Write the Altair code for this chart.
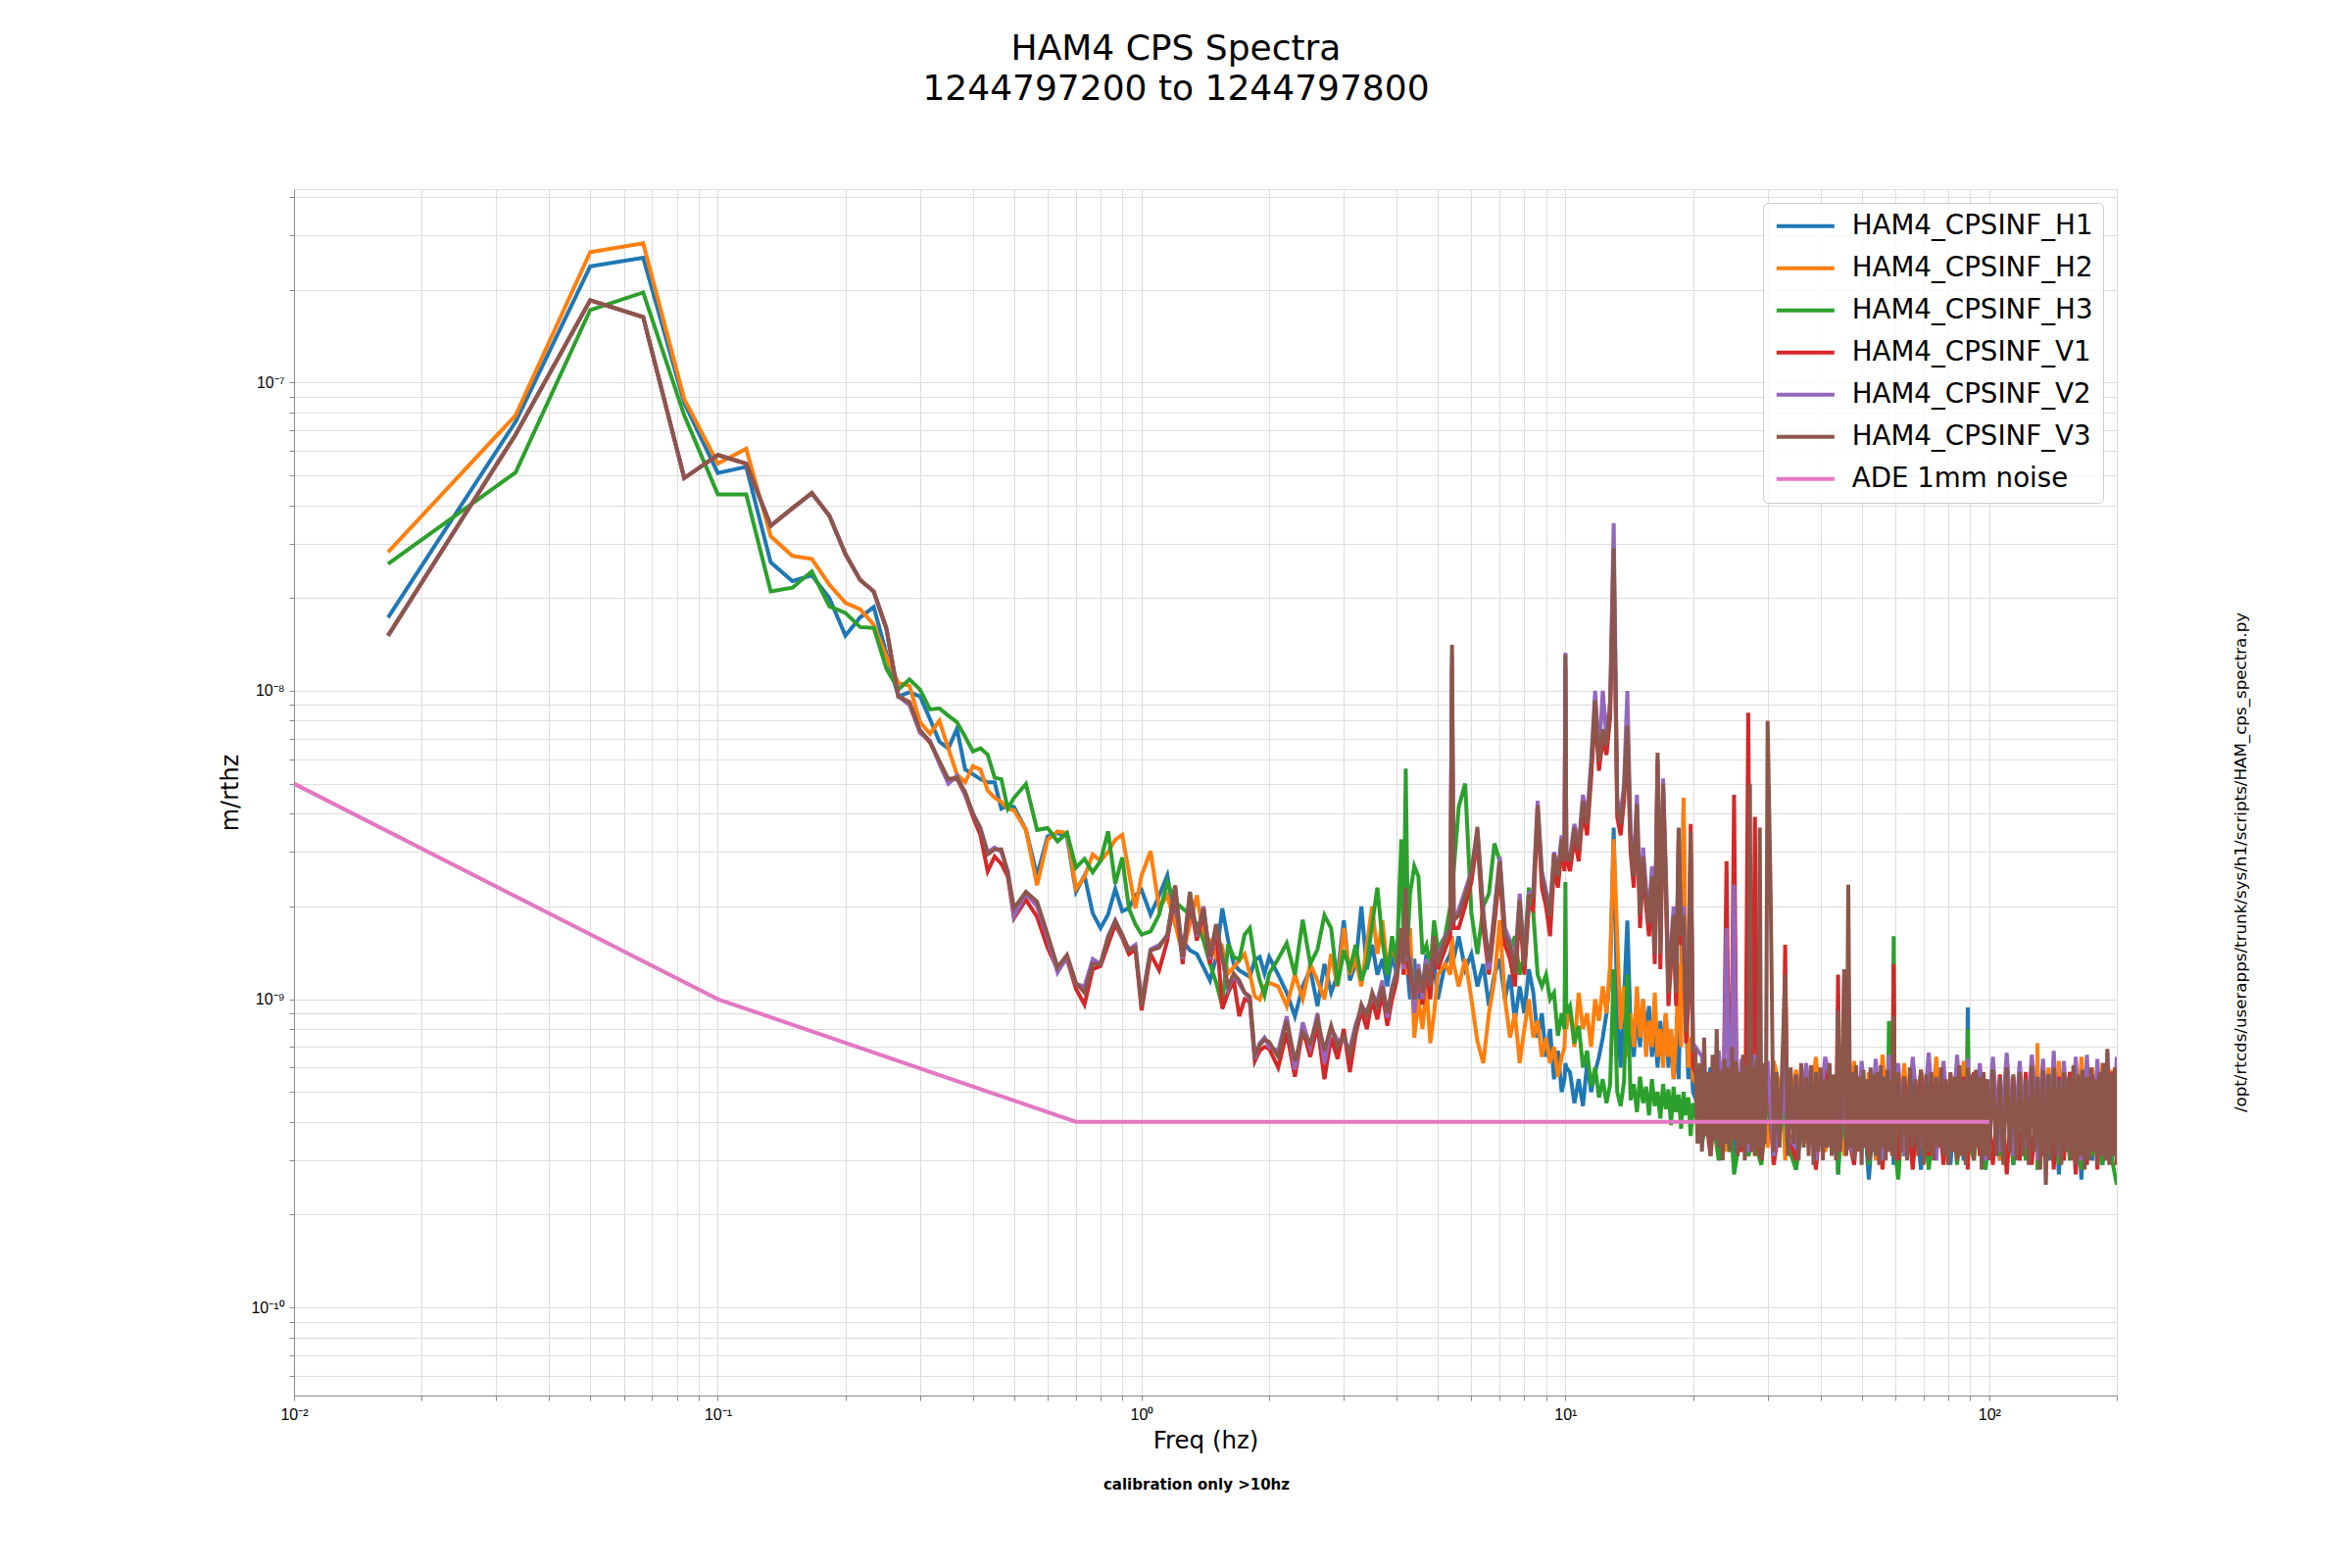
import altair as alt
import pandas as pd

NAMES = ["HAM4_CPSINF_H1", "HAM4_CPSINF_H2", "HAM4_CPSINF_H3",
         "HAM4_CPSINF_V1", "HAM4_CPSINF_V2", "HAM4_CPSINF_V3", "ADE 1mm noise"]
COLORS = ["#1f77b4", "#ff7f0e", "#2ca02c", "#d62728", "#9467bd", "#8c564b", "#e377c2"]

TITLE = ["HAM4 CPS Spectra", "1244797200 to 1244797800"]
X_TITLE = "Freq (hz)"
Y_TITLE = "m/rthz"
NOTE = "calibration only >10hz"
SCRIPT_PATH = "/opt/rtcds/userapps/trunk/sys/h1/scripts/HAM_cps_spectra.py"

# ---------------- frequency grids (Hz) ----------------
FREQ_LOW = [
    0.01667, 0.03333, 0.05, 0.06667, 0.08333, 0.1, 0.11667, 0.13333, 0.15, 0.16667,
    0.18333, 0.2, 0.21667, 0.23333, 0.25, 0.26667,
    0.28333, 0.3, 0.31667, 0.33333, 0.35, 0.36667, 0.38333, 0.4, 0.41667, 0.43333,
    0.45, 0.46667, 0.48333, 0.5,
    0.53333, 0.56667, 0.6, 0.63333, 0.66667, 0.7, 0.73333, 0.76667, 0.8, 0.83333,
    0.86667, 0.9, 0.93333, 0.96667, 1.0,
    1.05, 1.1, 1.15, 1.2, 1.25, 1.3, 1.35, 1.4, 1.45, 1.5, 1.55, 1.6, 1.65, 1.7, 1.75,
    1.8, 1.85, 1.9, 1.95, 2.0,
    2.1, 2.2, 2.3, 2.4, 2.5, 2.6, 2.7, 2.8, 2.9, 3.0, 3.1, 3.2, 3.3, 3.4, 3.5, 3.6, 3.7,
    3.8, 3.9, 4.0, 4.1, 4.2, 4.3, 4.4, 4.5, 4.6, 4.7, 4.8, 4.9, 5.0,
    5.2, 5.4, 5.6, 5.8, 6.0, 6.2, 6.4, 6.6, 6.8, 7.0, 7.2, 7.4, 7.6, 7.8, 8.0, 8.2, 8.4,
    8.6, 8.8, 9.0, 9.2, 9.4, 9.6, 9.8, 10.0,
    10.25, 10.5, 10.75, 11.0, 11.25, 11.5, 11.75, 12.0, 12.25, 12.5, 12.75, 13.0, 13.25,
    13.5, 13.75, 14.0, 14.25, 14.5, 14.75, 15.0, 15.25, 15.5, 15.75, 16.0, 16.25, 16.5,
    16.75, 17.0, 17.25, 17.5, 17.75, 18.0, 18.25, 18.5, 18.75, 19.0, 19.25, 19.5, 19.75, 20.0,
]
# extra bins on either side of narrow lines (lines are sorted by frequency when drawn)
FREQ_LOW_EXTRA = [4.15, 4.25, 5.35, 5.45, 9.95, 10.05]

FREQ_HIGH = [
    21, 22, 23, 24, 25, 26, 27, 28, 29, 30, 31, 33, 35, 37, 39, 41, 44, 45.5, 48, 50,
    52, 54, 56, 58, 59.5, 61, 63, 66, 69, 72, 75, 78, 81, 84, 87, 89, 92, 95, 98, 102,
    106, 110, 114, 118, 122, 126, 130, 134, 138, 142, 146, 150, 155, 160, 165, 170, 175,
    180, 185, 190, 195, 200,
]
FREQ_HIGH_EXTRA = [23.6, 24.4, 24.6, 25.4, 26.6, 27.4, 27.6, 28.4, 32.6, 33.4, 43.6,
                   44.4, 45.1, 45.9, 57.6, 58.4, 59.1, 59.9, 88.6, 89.4, 129.6, 130.4]

FREQ_V3_HIGH = [
    20.25, 20.5, 20.75, 21.0, 21.25, 21.5, 21.75, 22.0, 22.25, 22.5, 22.75, 23.0, 23.25,
    23.5, 23.75, 24.0, 24.25, 24.5, 24.75, 25.0, 25.25, 25.5, 25.75, 26.0, 26.25, 26.5,
    26.75, 27.0, 27.25, 27.5, 27.75, 28.0, 28.25, 28.5, 28.75, 29.0, 29.25, 29.5, 29.75, 30.0,
    30.5, 31.0, 31.5, 32.0, 32.5, 33.0, 33.5, 34.0, 34.5, 35.0, 35.5, 36.0, 36.5, 37.0,
    37.5, 38.0, 38.5, 39.0, 39.5, 40.0, 40.5, 41.0, 41.5, 42.0, 42.5, 43.0, 43.5, 44.0,
    44.5, 45.0, 45.5, 46.0, 46.5, 47.0, 47.5, 48.0, 48.5, 49.0, 49.5, 50.0, 50.5, 51.0,
    51.5, 52.0, 52.5, 53.0, 53.5, 54.0, 54.5, 55.0, 55.5, 56.0, 56.5, 57.0, 57.5, 58.0,
    58.5, 59.0, 59.5, 60.0,
    61, 62, 63, 64, 65, 66, 67, 68, 69, 70, 71, 72, 73, 74, 75, 76, 77, 78, 79, 80,
    81, 82, 83, 84, 85, 86, 87, 88, 89, 90, 91, 92, 93, 94, 95, 96, 97, 98, 99, 100,
    102, 104, 106, 108, 110, 112, 114, 116, 118, 120, 122, 124, 126, 128, 130, 132, 134,
    136, 138, 140, 142, 144, 146, 148, 150, 152, 154, 156, 158, 160, 162, 164, 166, 168,
    170, 172, 174, 176, 178, 180, 182, 184, 186, 188, 190, 192, 194, 196, 198, 200,
]

# ---------------- amplitude spectral densities (m/rtHz) ----------------
H1_LOW = [
    1.73e-8, 7.46e-8, 2.38e-7, 2.54e-7, 8.6e-8, 5.09e-8, 5.33e-8, 2.61e-8, 2.27e-8, 2.37e-8,
    2.0e-8, 1.51e-8, 1.73e-8, 1.87e-8, 1.32e-8, 9.6e-9,
    9.9e-9, 9.6e-9, 8.1e-9, 6.84e-9, 6.5e-9, 7.55e-9, 5.56e-9, 5.36e-9, 5.17e-9, 5.05e-9,
    5.05e-9, 4.15e-9, 4.25e-9, 4.2e-9,
    3.54e-9, 2.52e-9, 3.37e-9, 3.46e-9, 3.37e-9, 2.23e-9, 2.52e-9, 1.9e-9, 1.7e-9, 1.88e-9,
    2.28e-9, 1.93e-9, 1.97e-9, 2.17e-9, 2.26e-9,
    1.88e-9, 2.17e-9, 2.52e-9, 1.75e-9, 1.55e-9, 1.44e-9, 1.4e-9, 1.27e-9, 1.15e-9, 1.37e-9,
    1.97e-9, 1.55e-9, 1.3e-9, 1.24e-9, 1.21e-9, 1.18e-9, 1.34e-9, 1.37e-9, 1.21e-9, 1.37e-9,
    1.2e-9, 1.05e-9, 8.8e-10, 1.1e-9, 1.25e-9, 9.5e-10, 1.3e-9, 1.05e-9, 1.2e-9, 1.8e-9,
    1.15e-9, 1.3e-9, 2.0e-9, 1.25e-9, 1.5e-9, 1.2e-9, 1.35e-9, 1.1e-9, 1.4e-9, 1.2e-9,
    1.5e-9, 1.3e-9, 1.0e-9, 1.35e-9, 9.5e-10, 1.1e-9, 1.4e-9, 1.15e-9, 1.3e-9, 1.0e-9,
    1.3e-9, 1.5e-9, 1.6e-9, 1.25e-9, 1.4e-9, 1.1e-9, 1.3e-9, 9.5e-10, 1.2e-9, 1.35e-9,
    1.0e-9, 1.2e-9, 8.5e-10, 1.1e-9, 9e-10, 1.25e-9, 1.05e-9, 7.5e-10, 9e-10, 6.5e-10,
    8e-10, 5.5e-10, 6.8e-10, 5e-10, 6.2e-10,
    5.8e-10, 4.6e-10, 5.5e-10, 4.5e-10, 6.2e-10, 5.0e-10, 5.8e-10, 6.5e-10, 7.5e-10, 9e-10,
    1.2e-9, 3.6e-9, 9e-10, 6e-10, 1.0e-9, 1.8e-9, 8e-10, 6.5e-10, 9e-10, 7e-10,
    1.0e-9, 7.5e-10, 9.5e-10, 6.5e-10, 8e-10, 6e-10, 8.5e-10, 6.5e-10, 9e-10, 6e-10,
    8e-10, 5.5e-10, 7.5e-10, 5.5e-10, 1.2e-9, 4.2e-9, 9e-10, 5.5e-10, 7e-10, 5e-10,
]
H1_LOW_EXTRA = [1.4e-9, 1.2e-9, 1.4e-9, 1.35e-9, 5.5e-10, 6e-10]
H1_HIGH = [
    4.2e-10, 6.0e-10, 3.2e-10, 5.2e-10, 2.9e-10, 5.5e-10, 3.3e-10, 5.0e-10, 3.0e-10, 5.3e-10,
    3.4e-10, 5.6e-10, 2.8e-10, 5.2e-10, 3.1e-10, 5.4e-10, 2.7e-10, 5.0e-10, 3.2e-10, 5.5e-10,
    2.6e-10, 5.3e-10, 3.0e-10, 5.6e-10, 2.9e-10, 5.2e-10, 3.1e-10, 5.5e-10, 2.8e-10, 5.4e-10,
    3.2e-10, 5.1e-10, 2.9e-10, 5.6e-10, 3.0e-10, 9.4e-10, 3.1e-10, 5.4e-10, 2.8e-10, 5.5e-10,
    3.0e-10, 5.7e-10, 2.9e-10, 5.3e-10, 3.1e-10, 5.6e-10, 2.8e-10, 5.4e-10, 3.0e-10, 5.8e-10,
    2.7e-10, 5.5e-10, 3.1e-10, 5.6e-10, 2.6e-10, 5.4e-10, 3.0e-10, 5.7e-10, 2.9e-10, 5.3e-10,
    3.2e-10, 5.5e-10,
]
H1_HIGH_EXTRA = [4.5e-10, 3.8e-10, 4.8e-10, 3.6e-10, 4.4e-10, 3.9e-10, 4.6e-10, 3.7e-10,
                 4.5e-10, 3.8e-10, 4.7e-10, 3.6e-10, 4.4e-10, 3.9e-10, 4.6e-10, 3.7e-10,
                 4.5e-10, 3.8e-10, 4.6e-10, 3.9e-10, 4.4e-10, 3.7e-10]

H2_LOW = [
    2.82e-8, 7.83e-8, 2.65e-7, 2.83e-7, 8.85e-8, 5.46e-8, 6.1e-8, 3.17e-8, 2.74e-8, 2.68e-8,
    2.21e-8, 1.93e-8, 1.84e-8, 1.64e-8, 1.29e-8, 1.06e-8,
    1.04e-8, 7.92e-9, 7.26e-9, 8.0e-9, 6.5e-9, 5.36e-9, 5.05e-9, 5.7e-9, 5.56e-9, 4.75e-9,
    4.5e-9, 4.36e-9, 4.15e-9, 4.1e-9,
    3.54e-9, 2.34e-9, 3.29e-9, 3.5e-9, 3.46e-9, 2.28e-9, 2.49e-9, 2.95e-9, 2.81e-9, 3.0e-9,
    3.29e-9, 3.41e-9, 2.58e-9, 1.97e-9, 2.52e-9,
    3.02e-9, 1.97e-9, 2.17e-9, 1.75e-9, 1.4e-9, 1.75e-9, 2.17e-9, 1.62e-9, 1.55e-9, 1.37e-9,
    1.47e-9, 1.21e-9, 1.27e-9, 1.34e-9, 1.4e-9, 1.21e-9, 1.02e-9, 9.97e-10, 1.1e-9, 1.13e-9,
    1.1e-9, 9.5e-10, 1.2e-9, 1.0e-9, 1.3e-9, 1.15e-9, 1.0e-9, 1.4e-9, 1.1e-9, 1.7e-9,
    1.2e-9, 1.35e-9, 1.1e-9, 1.5e-9, 2.0e-9, 1.4e-9, 1.8e-9, 1.25e-9, 1.5e-9, 1.3e-9,
    1.6e-9, 1.2e-9, 1.7e-9, 7.5e-10, 1.0e-9, 8e-10, 1.1e-9, 7.2e-10, 9e-10, 1.2e-9,
    1.3e-9, 1.6e-9, 1.1e-9, 1.35e-9, 1.0e-9, 7.3e-10, 6.2e-10, 9e-10, 1.15e-9, 1.8e-9,
    1.0e-9, 7.5e-10, 9e-10, 6.2e-10, 8e-10, 1.0e-9, 7.5e-10, 8.5e-10, 6.5e-10, 7.5e-10,
    6.2e-10, 7e-10, 5.6e-10, 6.5e-10, 8.5e-10,
    9.5e-10, 7e-10, 1.05e-9, 8e-10, 9e-10, 7e-10, 1.0e-9, 8.5e-10, 1.1e-9, 9e-10,
    1.3e-9, 3.3e-9, 1.6e-9, 8e-10, 1.1e-9, 6.5e-10, 9e-10, 7e-10, 1.1e-9, 7.5e-10,
    1.0e-9, 6.5e-10, 8.5e-10, 7e-10, 1.05e-9, 6.5e-10, 8e-10, 6e-10, 9e-10, 6.5e-10,
    8e-10, 5.5e-10, 7.5e-10, 1.3e-9, 7e-10, 4.5e-9, 1.1e-9, 6e-10, 7.5e-10, 5.5e-10,
]
H2_LOW_EXTRA = [1.4e-9, 1.5e-9, 1.2e-9, 1.3e-9, 7e-10, 8e-10]
H2_HIGH = [
    5.0e-10, 3.4e-10, 6.2e-10, 3.2e-10, 5.8e-10, 3.5e-10, 6.4e-10, 3.1e-10, 5.6e-10, 3.3e-10,
    6.3e-10, 3.0e-10, 5.9e-10, 3.4e-10, 6.5e-10, 3.2e-10, 5.7e-10, 3.1e-10, 6.3e-10, 3.3e-10,
    5.8e-10, 3.0e-10, 6.6e-10, 3.2e-10, 5.9e-10, 3.4e-10, 6.2e-10, 3.1e-10, 5.8e-10, 3.3e-10,
    6.5e-10, 3.0e-10, 5.7e-10, 3.2e-10, 6.3e-10, 8.0e-10, 3.1e-10, 6.1e-10, 3.3e-10, 5.8e-10,
    3.0e-10, 6.4e-10, 3.2e-10, 5.9e-10, 3.1e-10, 6.2e-10, 7.2e-10, 3.3e-10, 6.0e-10, 3.0e-10,
    6.3e-10, 3.2e-10, 5.8e-10, 2.9e-10, 6.5e-10, 3.1e-10, 6.0e-10, 3.2e-10, 6.2e-10, 3.0e-10,
    5.9e-10, 3.1e-10,
]
H2_HIGH_EXTRA = [4.3e-10, 3.9e-10, 4.6e-10, 3.7e-10, 4.5e-10, 3.8e-10, 4.4e-10, 3.6e-10,
                 4.7e-10, 3.9e-10, 4.5e-10, 3.7e-10, 4.6e-10, 3.8e-10, 4.4e-10, 3.6e-10,
                 4.7e-10, 3.9e-10, 4.5e-10, 3.7e-10, 4.6e-10, 3.8e-10]

H3_LOW = [
    2.58e-8, 5.11e-8, 1.72e-7, 1.96e-7, 7.83e-8, 4.34e-8, 4.34e-8, 2.10e-8, 2.16e-8, 2.44e-8,
    1.88e-8, 1.79e-8, 1.61e-8, 1.60e-8, 1.18e-8, 1.01e-8,
    1.09e-8, 1.01e-8, 8.7e-9, 8.77e-9, 8.3e-9, 7.92e-9, 7.1e-9, 6.36e-9, 6.51e-9, 6.21e-9,
    5.23e-9, 5.17e-9, 4.15e-9, 4.5e-9,
    4.99e-9, 3.54e-9, 3.59e-9, 3.25e-9, 3.46e-9, 2.67e-9, 2.85e-9, 2.58e-9, 2.81e-9, 3.5e-9,
    2.37e-9, 2.88e-9, 1.97e-9, 1.75e-9, 1.62e-9,
    1.66e-9, 1.88e-9, 2.4e-9, 2.07e-9, 1.97e-9, 1.88e-9, 1.75e-9, 1.55e-9, 1.3e-9, 1.13e-9,
    9.5e-10, 1.51e-9, 1.37e-9, 1.34e-9, 1.62e-9, 1.7e-9, 1.34e-9, 1.15e-9, 1.03e-9, 1.21e-9,
    1.35e-9, 1.52e-9, 1.2e-9, 1.81e-9, 1.3e-9, 1.45e-9, 1.87e-9, 1.7e-9, 1.11e-9, 1.44e-9,
    1.25e-9, 1.5e-9, 1.15e-9, 1.3e-9, 1.75e-9, 2.3e-9, 1.55e-9, 1.2e-9, 1.6e-9, 1.3e-9,
    3.3e-9, 5.6e-9, 2.2e-9, 2.7e-9, 2.5e-9, 1.4e-9, 1.5e-9, 1.25e-9, 1.8e-9, 1.45e-9,
    1.6e-9, 2.2e-9, 4.2e-9, 5.0e-9, 1.9e-9, 1.4e-9, 2.0e-9, 2.2e-9, 3.2e-9, 2.8e-9,
    1.6e-9, 1.4e-9, 1.6e-9, 1.2e-9, 1.4e-9, 2.3e-9, 1.9e-9, 1.2e-9, 1.1e-9, 1.2e-9,
    1.0e-9, 1.05e-9, 7.6e-10, 9e-10, 2.4e-9,
    9.5e-10, 7.2e-10, 8.2e-10, 6.0e-10, 6.8e-10, 5.2e-10, 6.0e-10, 4.8e-10, 5.5e-10, 4.6e-10,
    5.3e-10, 1.25e-9, 5.0e-10, 4.5e-10, 5.4e-10, 1.2e-9, 4.7e-10, 5.3e-10, 4.3e-10, 5.6e-10,
    4.6e-10, 5.2e-10, 4.2e-10, 5.5e-10, 4.5e-10, 5.0e-10, 4.1e-10, 5.3e-10, 4.4e-10, 5.1e-10,
    3.9e-10, 5.2e-10, 4.3e-10, 4.9e-10, 3.8e-10, 5.0e-10, 4.2e-10, 4.8e-10, 3.6e-10, 4.6e-10,
]
H3_LOW_EXTRA = [1.5e-9, 1.6e-9, 2.0e-9, 2.6e-9, 8e-10, 9e-10]
H3_HIGH = [
    3.4e-10, 4.6e-10, 3.0e-10, 4.2e-10, 2.7e-10, 4.5e-10, 3.1e-10, 4.3e-10, 2.9e-10, 4.8e-10,
    3.2e-10, 5.0e-10, 2.8e-10, 4.9e-10, 3.0e-10, 5.1e-10, 2.7e-10, 4.8e-10, 3.1e-10, 5.2e-10,
    2.9e-10, 5.0e-10, 3.0e-10, 8.5e-10, 1.6e-9, 2.6e-10, 5.1e-10, 3.0e-10, 5.3e-10, 2.8e-10,
    5.0e-10, 3.1e-10, 5.2e-10, 2.9e-10, 5.4e-10, 8.0e-10, 3.0e-10, 5.1e-10, 2.8e-10, 5.3e-10,
    3.1e-10, 5.0e-10, 2.9e-10, 5.2e-10, 3.0e-10, 5.4e-10, 2.8e-10, 5.1e-10, 3.1e-10, 5.3e-10,
    2.9e-10, 5.0e-10, 3.0e-10, 5.2e-10, 2.8e-10, 5.4e-10, 3.1e-10, 5.1e-10, 2.9e-10, 5.3e-10,
    3.0e-10, 2.5e-10,
]
H3_HIGH_EXTRA = [3.6e-10, 3.2e-10, 3.8e-10, 3.1e-10, 3.7e-10, 3.3e-10, 3.9e-10, 3.2e-10,
                 4.0e-10, 3.4e-10, 4.1e-10, 3.3e-10, 3.9e-10, 3.5e-10, 4.0e-10, 3.4e-10,
                 3.8e-10, 3.3e-10, 4.0e-10, 3.5e-10, 4.1e-10, 3.4e-10]

V1_LOW = [
    1.51e-8, 6.78e-8, 1.85e-7, 1.63e-7, 4.9e-8, 5.82e-8, 5.46e-8, 3.43e-8, 3.91e-8, 4.38e-8,
    3.7e-8, 2.78e-8, 2.29e-8, 2.1e-8, 1.59e-8, 9.6e-9,
    9.2e-9, 7.4e-9, 6.8e-9, 5.9e-9, 5.1e-9, 5.2e-9, 4.6e-9, 3.9e-9, 3.4e-9, 2.6e-9,
    2.9e-9, 2.75e-9, 2.5e-9, 1.83e-9,
    2.1e-9, 1.85e-9, 1.47e-9, 1.25e-9, 1.35e-9, 1.08e-9, 9.6e-10, 1.25e-9, 1.28e-9, 1.5e-9,
    1.75e-9, 1.58e-9, 1.4e-9, 1.45e-9, 9.2e-10,
    1.4e-9, 1.24e-9, 1.55e-9, 2.2e-9, 1.3e-9, 2.1e-9, 1.55e-9, 1.9e-9, 1.3e-9, 1.7e-9,
    9.3e-10, 1.05e-9, 1.15e-9, 8.8e-10, 1.0e-9, 9.8e-10, 6.3e-10, 6.8e-10, 7.0e-10, 6.9e-10,
    6.0e-10, 7.8e-10, 5.6e-10, 8.0e-10, 6.5e-10, 8.2e-10, 5.5e-10, 7.5e-10, 6.4e-10, 8.0e-10,
    5.8e-10, 7.7e-10, 9.2e-10, 8.0e-10, 1.0e-9, 8.6e-10, 1.05e-9, 8.2e-10, 1.0e-9, 1.15e-9,
    1.6e-9, 2.2e-9, 1.2e-9, 9.4e-10, 1.2e-9, 9.6e-10, 1.25e-9, 1.0e-9, 1.5e-9, 1.25e-9,
    1.45e-9, 1.2e-8, 1.7e-9, 2.0e-9, 2.4e-9, 3.3e-9, 1.7e-9, 1.2e-9, 1.75e-9, 2.6e-9,
    1.5e-9, 1.35e-9, 1.1e-9, 1.95e-9, 1.2e-9, 2.0e-9, 1.95e-9, 4.0e-9, 2.3e-9, 2.0e-9,
    1.6e-9, 2.7e-9, 2.3e-9, 3.1e-9, 1.2e-8,
    2.6e-9, 3.3e-9, 2.8e-9, 4.1e-9, 3.4e-9, 5.2e-9, 8.5e-9, 5.5e-9, 7.0e-9, 6.2e-9,
    8.2e-9, 2.6e-8, 3.9e-9, 3.4e-9, 4.4e-9, 7.0e-9, 3.0e-9, 2.3e-9, 4.0e-9, 1.7e-9,
    2.7e-9, 2.0e-9, 1.6e-9, 2.3e-9, 1.3e-9, 5.8e-9, 1.25e-9, 4.6e-9, 2.3e-9, 9.5e-10,
    1.3e-9, 1.7e-9, 9.5e-10, 3.3e-9, 1.5e-9, 1.7e-9, 7.2e-10, 9.5e-10, 3.7e-9, 6.0e-10,
]
V1_LOW_EXTRA = [1.2e-9, 1.3e-9, 1.6e-9, 1.7e-9, 2.6e-9, 2.9e-9]
V1_HIGH = [
    5.2e-10, 3.1e-10, 6.0e-10, 2.8e-9, 4.6e-9, 3.2e-10, 8.5e-9, 3.9e-9, 3.0e-10, 5.8e-10,
    2.9e-10, 1.5e-9, 3.0e-10, 5.6e-10, 2.8e-10, 5.9e-10, 1.2e-9, 1.25e-9, 2.9e-10, 5.7e-10,
    3.0e-10, 5.5e-10, 2.8e-10, 5.8e-10, 1.3e-9, 3.0e-10, 5.6e-10, 2.8e-10, 5.9e-10, 3.1e-10,
    5.5e-10, 2.9e-10, 5.7e-10, 3.0e-10, 5.6e-10, 2.8e-10, 5.8e-10, 3.1e-10, 5.5e-10, 2.9e-10,
    5.7e-10, 2.7e-10, 5.6e-10, 3.0e-10, 5.8e-10, 2.9e-10, 5.5e-10, 3.1e-10, 5.7e-10, 2.8e-10,
    5.6e-10, 3.0e-10, 5.8e-10, 2.7e-10, 5.5e-10, 2.9e-10, 5.7e-10, 2.8e-10, 5.6e-10, 3.0e-10,
    5.8e-10, 2.9e-10,
]
V1_HIGH_EXTRA = [4.4e-10, 3.8e-10, 4.6e-10, 3.7e-10, 4.5e-10, 3.9e-10, 4.3e-10, 3.6e-10,
                 4.6e-10, 3.8e-10, 4.4e-10, 3.7e-10, 4.5e-10, 3.9e-10, 4.6e-10, 3.8e-10,
                 4.4e-10, 3.7e-10, 4.5e-10, 3.8e-10, 4.6e-10, 3.9e-10]

V2_LOW = [
    1.51e-8, 6.78e-8, 1.85e-7, 1.63e-7, 4.9e-8, 5.82e-8, 5.46e-8, 3.43e-8, 3.91e-8, 4.38e-8,
    3.7e-8, 2.78e-8, 2.29e-8, 2.1e-8, 1.59e-8, 9.6e-9,
    9.0e-9, 7.3e-9, 6.9e-9, 5.8e-9, 5.0e-9, 5.3e-9, 4.6e-9, 4.0e-9, 3.6e-9, 3.0e-9,
    3.1e-9, 3.0e-9, 2.6e-9, 1.85e-9,
    2.2e-9, 2.0e-9, 1.58e-9, 1.22e-9, 1.37e-9, 1.12e-9, 1.1e-9, 1.35e-9, 1.3e-9, 1.6e-9,
    1.8e-9, 1.6e-9, 1.45e-9, 1.5e-9, 9.8e-10,
    1.45e-9, 1.5e-9, 1.6e-9, 2.3e-9, 1.35e-9, 2.2e-9, 1.6e-9, 2.0e-9, 1.35e-9, 1.75e-9,
    1.35e-9, 1.08e-9, 1.2e-9, 1.12e-9, 1.05e-9, 1.0e-9, 6.4e-10, 7.2e-10, 7.5e-10, 7.0e-10,
    6.8e-10, 8.8e-10, 5.9e-10, 8.4e-10, 7.0e-10, 9.0e-10, 6.2e-10, 8.0e-10, 7.4e-10, 7.3e-10,
    6.9e-10, 8.3e-10, 9.3e-10, 9.2e-10, 1.0e-9, 9.9e-10, 1.15e-9, 8.7e-10, 1.1e-9, 1.25e-9,
    1.65e-9, 2.25e-9, 1.35e-9, 9.0e-10, 1.3e-9, 1.0e-9, 1.35e-9, 1.15e-9, 1.55e-9, 1.35e-9,
    1.6e-9, 1.3e-8, 1.95e-9, 2.25e-9, 2.6e-9, 3.5e-9, 1.95e-9, 1.25e-9, 1.95e-9, 2.9e-9,
    1.7e-9, 1.55e-9, 1.3e-9, 2.2e-9, 1.35e-9, 2.2e-9, 2.25e-9, 4.4e-9, 2.6e-9, 2.25e-9,
    1.95e-9, 3.0e-9, 2.6e-9, 3.4e-9, 1.33e-8,
    2.9e-9, 3.7e-9, 3.2e-9, 4.6e-9, 3.9e-9, 5.9e-9, 1.0e-8, 6.2e-9, 1.0e-8, 7.0e-9,
    9.3e-9, 3.5e-8, 4.5e-9, 3.9e-9, 5.0e-9, 1.0e-8, 3.5e-9, 2.7e-9, 4.6e-9, 2.0e-9,
    3.1e-9, 2.3e-9, 1.9e-9, 2.7e-9, 1.5e-9, 6.0e-9, 1.5e-9, 5.2e-9, 2.7e-9, 1.15e-9,
    1.5e-9, 2.0e-9, 1.15e-9, 3.2e-9, 1.7e-9, 2.0e-9, 8.5e-10, 1.15e-9, 3.0e-9, 7.2e-10,
]
V2_LOW_EXTRA = [1.25e-9, 1.35e-9, 1.7e-9, 1.8e-9, 2.8e-9, 3.0e-9]
V2_HIGH = [
    6.5e-10, 3.3e-10, 6.8e-10, 1.7e-9, 2.35e-9, 6.4e-10, 3.2e-10, 6.6e-10, 3.4e-10, 6.3e-10,
    3.1e-10, 6.7e-10, 3.3e-10, 6.2e-10, 3.0e-10, 6.5e-10, 3.2e-10, 6.6e-10, 3.1e-10, 6.3e-10,
    3.3e-10, 6.4e-10, 3.0e-10, 6.6e-10, 3.2e-10, 6.2e-10, 3.1e-10, 6.5e-10, 3.3e-10, 6.7e-10,
    3.0e-10, 6.3e-10, 3.2e-10, 6.6e-10, 3.1e-10, 6.4e-10, 3.3e-10, 6.2e-10, 3.0e-10, 6.5e-10,
    3.2e-10, 6.7e-10, 3.1e-10, 6.3e-10, 3.3e-10, 6.6e-10, 3.0e-10, 6.4e-10, 3.2e-10, 6.8e-10,
    3.1e-10, 6.3e-10, 3.3e-10, 6.5e-10, 3.0e-10, 6.6e-10, 3.2e-10, 6.4e-10, 3.1e-10, 6.7e-10,
    3.3e-10, 6.5e-10,
]
V2_HIGH_EXTRA = [4.6e-10, 3.9e-10, 4.4e-10, 3.8e-10, 4.7e-10, 3.7e-10, 4.5e-10, 3.9e-10,
                 4.4e-10, 3.6e-10, 4.6e-10, 3.8e-10, 4.5e-10, 3.7e-10, 4.4e-10, 3.9e-10,
                 4.6e-10, 3.8e-10, 4.7e-10, 3.6e-10, 4.5e-10, 3.9e-10]

V3_LOW = [
    1.51e-8, 6.78e-8, 1.85e-7, 1.63e-7, 4.9e-8, 5.82e-8, 5.46e-8, 3.43e-8, 3.91e-8, 4.38e-8,
    3.7e-8, 2.78e-8, 2.29e-8, 2.1e-8, 1.59e-8, 9.6e-9,
    9.17e-9, 7.45e-9, 6.84e-9, 5.91e-9, 5.17e-9, 5.23e-9, 4.7e-9, 4.0e-9, 3.54e-9, 2.95e-9,
    3.06e-9, 3.06e-9, 2.58e-9, 1.97e-9,
    2.23e-9, 2.07e-9, 1.62e-9, 1.27e-9, 1.39e-9, 1.13e-9, 1.05e-9, 1.3e-9, 1.3e-9, 1.58e-9,
    1.79e-9, 1.62e-9, 1.44e-9, 1.47e-9, 9.5e-10,
    1.44e-9, 1.47e-9, 1.62e-9, 2.34e-9, 1.37e-9, 2.23e-9, 1.62e-9, 1.97e-9, 1.37e-9, 1.75e-9,
    1.37e-9, 1.1e-9, 1.21e-9, 1.15e-9, 1.05e-9, 1.02e-9, 6.6e-10, 7.1e-10, 7.4e-10, 7.26e-10,
    6.5e-10, 8.5e-10, 6.3e-10, 7.8e-10, 7.2e-10, 8.6e-10, 6.8e-10, 8.2e-10, 7.0e-10, 7.6e-10,
    6.6e-10, 8.0e-10, 9.6e-10, 8.8e-10, 1.05e-9, 9.5e-10, 1.1e-9, 9.0e-10, 1.08e-9, 1.2e-9,
    1.7e-9, 2.3e-9, 1.3e-9, 1.0e-9, 1.25e-9, 1.05e-9, 1.3e-9, 1.1e-9, 1.6e-9, 1.3e-9,
    1.57e-9, 1.41e-8, 1.87e-9, 2.16e-9, 2.56e-9, 3.62e-9, 1.87e-9, 1.32e-9, 1.87e-9, 2.8e-9,
    1.61e-9, 1.5e-9, 1.21e-9, 2.1e-9, 1.28e-9, 2.16e-9, 2.16e-9, 4.25e-9, 2.5e-9, 2.16e-9,
    1.87e-9, 2.96e-9, 2.5e-9, 3.3e-9, 1.31e-8,
    2.8e-9, 3.6e-9, 3.05e-9, 4.4e-9, 3.7e-9, 5.6e-9, 9.3e-9, 5.9e-9, 7.5e-9, 6.65e-9,
    8.9e-9, 2.9e-8, 4.2e-9, 3.7e-9, 4.7e-9, 7.7e-9, 3.3e-9, 2.5e-9, 4.3e-9, 1.87e-9,
    2.9e-9, 2.16e-9, 1.76e-9, 2.5e-9, 1.4e-9, 6.3e-9, 1.4e-9, 5.0e-9, 2.5e-9, 1.05e-9,
    1.4e-9, 1.87e-9, 1.05e-9, 3.6e-9, 1.6e-9, 1.87e-9, 7.8e-10, 1.05e-9, 3.5e-9, 6.8e-10,
]
V3_LOW_EXTRA = [1.3e-9, 1.4e-9, 1.7e-9, 1.8e-9, 2.8e-9, 3.0e-9]
V3_HIGH = [
    6.8e-10, 3.4e-10, 6.2e-10, 3.2e-10, 7.5e-10, 3.6e-10, 5.8e-10, 3.1e-10, 6.6e-10, 3.5e-10,
    8.0e-10, 3.3e-10, 5.9e-10, 3.0e-10, 6.4e-10, 3.4e-10, 6.0e-10, 3.2e-10, 7.0e-10, 3.5e-10,
    6.3e-10, 3.1e-10, 5.8e-10, 3.3e-10, 6.6e-10, 3.0e-10, 6.1e-10, 3.4e-10, 5.0e-9, 3.2e-10,
    6.0e-10, 3.1e-10, 6.4e-10, 3.3e-10, 3.6e-9, 3.0e-10, 6.2e-10, 3.4e-10, 6.0e-10, 8.0e-9,
    2.2e-9, 3.2e-10, 5.8e-10, 3.3e-10, 6.3e-10, 1.2e-9, 3.1e-10, 6.0e-10, 3.4e-10, 5.7e-10,
    3.0e-10, 6.2e-10, 3.3e-10, 5.6e-10, 3.1e-10, 6.1e-10, 2.9e-10, 5.8e-10, 3.2e-10, 6.0e-10,
    3.0e-10, 5.5e-10, 3.3e-10, 6.2e-10, 3.1e-10, 5.7e-10, 3.0e-10, 9.2e-10, 3.2e-10, 6.0e-10,
    1.25e-9, 3.1e-10, 2.35e-9, 3.3e-10, 5.8e-10, 3.0e-10, 6.1e-10, 3.2e-10, 5.6e-10, 2.9e-10,
    5.9e-10, 3.3e-10, 5.5e-10, 3.0e-10, 6.0e-10, 3.2e-10, 5.7e-10, 3.1e-10, 5.8e-10, 2.9e-10,
    6.1e-10, 3.3e-10, 5.6e-10, 3.0e-10, 5.9e-10, 3.2e-10, 5.5e-10, 3.1e-10, 8.8e-10, 3.0e-10,
    5.8e-10, 3.2e-10, 5.6e-10, 3.0e-10, 6.0e-10, 3.3e-10, 5.5e-10, 3.1e-10, 5.9e-10, 2.9e-10,
    5.7e-10, 3.2e-10, 5.8e-10, 3.0e-10, 5.6e-10, 3.3e-10, 6.0e-10, 3.1e-10, 5.5e-10, 2.9e-10,
    5.8e-10, 3.2e-10, 5.6e-10, 3.0e-10, 6.1e-10, 3.1e-10, 5.5e-10, 2.9e-10, 6.0e-10, 3.2e-10,
    5.7e-10, 3.0e-10, 5.9e-10, 3.3e-10, 5.6e-10, 2.8e-10, 5.8e-10, 3.1e-10, 5.5e-10, 3.0e-10,
    5.9e-10, 3.1e-10, 5.6e-10, 2.9e-10, 6.0e-10, 3.2e-10, 5.7e-10, 3.0e-10, 5.8e-10, 3.1e-10,
    5.5e-10, 2.9e-10, 6.1e-10, 3.2e-10, 5.6e-10, 2.8e-10, 5.9e-10, 2.5e-10, 5.7e-10, 3.0e-10,
    6.0e-10, 3.1e-10, 5.5e-10, 2.9e-10, 5.8e-10, 3.2e-10, 5.6e-10, 3.0e-10, 6.1e-10, 2.9e-10,
    5.7e-10, 3.1e-10, 5.9e-10, 2.8e-10, 5.6e-10, 3.0e-10, 6.0e-10, 3.2e-10, 5.5e-10, 2.9e-10,
    5.8e-10, 3.1e-10, 6.2e-10, 3.0e-10, 6.9e-10, 2.9e-10, 5.7e-10, 3.1e-10, 6.0e-10, 3.0e-10,
]

ADE_FREQ = [0.01, 0.1, 0.7, 100.0]
ADE_VALUES = [5.0e-9, 1.0e-9, 4.0e-10, 4.0e-10]

SERIES = [
    (NAMES[0], [(FREQ_LOW, H1_LOW), (FREQ_LOW_EXTRA, H1_LOW_EXTRA),
                (FREQ_HIGH, H1_HIGH), (FREQ_HIGH_EXTRA, H1_HIGH_EXTRA)]),
    (NAMES[1], [(FREQ_LOW, H2_LOW), (FREQ_LOW_EXTRA, H2_LOW_EXTRA),
                (FREQ_HIGH, H2_HIGH), (FREQ_HIGH_EXTRA, H2_HIGH_EXTRA)]),
    (NAMES[2], [(FREQ_LOW, H3_LOW), (FREQ_LOW_EXTRA, H3_LOW_EXTRA),
                (FREQ_HIGH, H3_HIGH), (FREQ_HIGH_EXTRA, H3_HIGH_EXTRA)]),
    (NAMES[3], [(FREQ_LOW, V1_LOW), (FREQ_LOW_EXTRA, V1_LOW_EXTRA),
                (FREQ_HIGH, V1_HIGH), (FREQ_HIGH_EXTRA, V1_HIGH_EXTRA)]),
    (NAMES[4], [(FREQ_LOW, V2_LOW), (FREQ_LOW_EXTRA, V2_LOW_EXTRA),
                (FREQ_HIGH, V2_HIGH), (FREQ_HIGH_EXTRA, V2_HIGH_EXTRA)]),
    (NAMES[5], [(FREQ_LOW, V3_LOW), (FREQ_LOW_EXTRA, V3_LOW_EXTRA),
                (FREQ_V3_HIGH, V3_HIGH)]),
    (NAMES[6], [(ADE_FREQ, ADE_VALUES)]),
]

# ---------------- axes ----------------
X_TICKS = [m * 10.0 ** e for e in range(-2, 3) for m in range(1, 10) if m * 10.0 ** e <= 200]
Y_TICKS = [m * 10.0 ** e for e in range(-11, -6) for m in range(1, 10)
           if 5.18e-11 <= m * 10.0 ** e <= 4.24e-7]

EXP = "round(log(datum.value)/LN10)"
NOT_DECADE = f"abs(log(datum.value)/LN10 - {EXP}) > 0.001"
X_LABELS = (f"{NOT_DECADE} ? '' : {EXP} == -2 ? '10⁻²' : {EXP} == -1 ? '10⁻¹' : "
            f"{EXP} == 0 ? '10⁰' : {EXP} == 1 ? '10¹' : '10²'")
Y_LABELS = (f"{NOT_DECADE} ? '' : {EXP} == -10 ? '10⁻¹⁰' : {EXP} == -9 ? '10⁻⁹' : "
            f"{EXP} == -8 ? '10⁻⁸' : '10⁻⁷'")

W, H = 1860, 1231
FONT = "DejaVu Sans"

x_enc = alt.X(
    "freq:Q",
    scale=alt.Scale(type="log", domain=[0.01, 200], nice=False),
    axis=alt.Axis(values=X_TICKS, labelExpr=X_LABELS, title=X_TITLE, labelOverlap=False,
                  labelFlush=False, labelAlign="center", labelBaseline="top", labelPadding=6,
                  labelFontSize=16,
                  titleX=W / 2, titleY=53, titleAlign="center", titleBaseline="alphabetic",
                  titleFontSize=24.5, titleFontWeight="normal", titleFont=FONT),
)
y_enc = alt.Y(
    "asd:Q",
    scale=alt.Scale(type="log", domain=[5.18e-11, 4.24e-7], nice=False),
    axis=alt.Axis(values=Y_TICKS, labelExpr=Y_LABELS, title=Y_TITLE, labelOverlap=False,
                  labelFlush=False, labelAlign="right", labelBaseline="middle", labelPadding=5,
                  labelFontSize=16,
                  titleX=-58, titleY=H / 2, titleAngle=270, titleAlign="center",
                  titleBaseline="alphabetic", titleFontSize=24, titleFontWeight="normal",
                  titleFont=FONT),
)
color_enc = alt.Color(
    "series:N",
    scale=alt.Scale(domain=NAMES, range=COLORS),
    legend=alt.Legend(
        title=None, orient="none", legendX=1499, legendY=14,
        symbolType="M-1,0L4.9,0", symbolSize=400, symbolStrokeWidth=4, symbolOpacity=1,
        labelFont=FONT, labelFontSize=27.7, labelColor="black", labelOffset=53,
        labelLimit=600, rowPadding=14, padding=10, cornerRadius=5,
        fillColor="rgba(255,255,255,0.8)", strokeColor="#cccccc",
    ),
)

layers = []
for name, parts in SERIES:
    rows = [(f, v) for freqs, vals in parts for f, v in zip(freqs, vals)]
    df = pd.DataFrame(rows, columns=["freq", "asd"])
    df["series"] = name
    layers.append(
        alt.Chart(df).mark_line(strokeWidth=4, clip=True).encode(x=x_enc, y=y_enc, color=color_enc)
    )

note = alt.Chart(pd.DataFrame({"t": [NOTE]})).mark_text(
    font=FONT, fontSize=15, fontWeight="bold", align="center", baseline="alphabetic", color="black"
).encode(text="t:N", x=alt.value(921), y=alt.value(1327))

path_note = alt.Chart(pd.DataFrame({"t": [SCRIPT_PATH]})).mark_text(
    font=FONT, fontSize=16.7, angle=270, align="center", baseline="middle", color="black"
).encode(text="t:N", x=alt.value(1987), y=alt.value(687))

chart = alt.layer(*layers, note, path_note).properties(
    width=W, height=H,
    autosize=alt.AutoSizeParams(type="none"),
    padding={"left": 292, "top": 185, "right": 232, "bottom": 168},
    title=alt.TitleParams(text=TITLE, font=FONT, fontSize=36, fontWeight="normal",
                          anchor="middle", dx=-30, offset=83, lineHeight=41, color="black"),
).configure_view(
    stroke="black", strokeWidth=1.6
).configure_axis(
    gridColor="#a4a4a4", gridWidth=1.5, gridOpacity=1, domain=False,
    tickColor="black", tickWidth=1.3, tickSize=5,
    labelFont=FONT, labelColor="black",
    titleFont=FONT, titleFontWeight="normal", titleColor="black",
).configure(background="white")

chart.save("out.html", embed_options={"renderer": "svg", "actions": False})
